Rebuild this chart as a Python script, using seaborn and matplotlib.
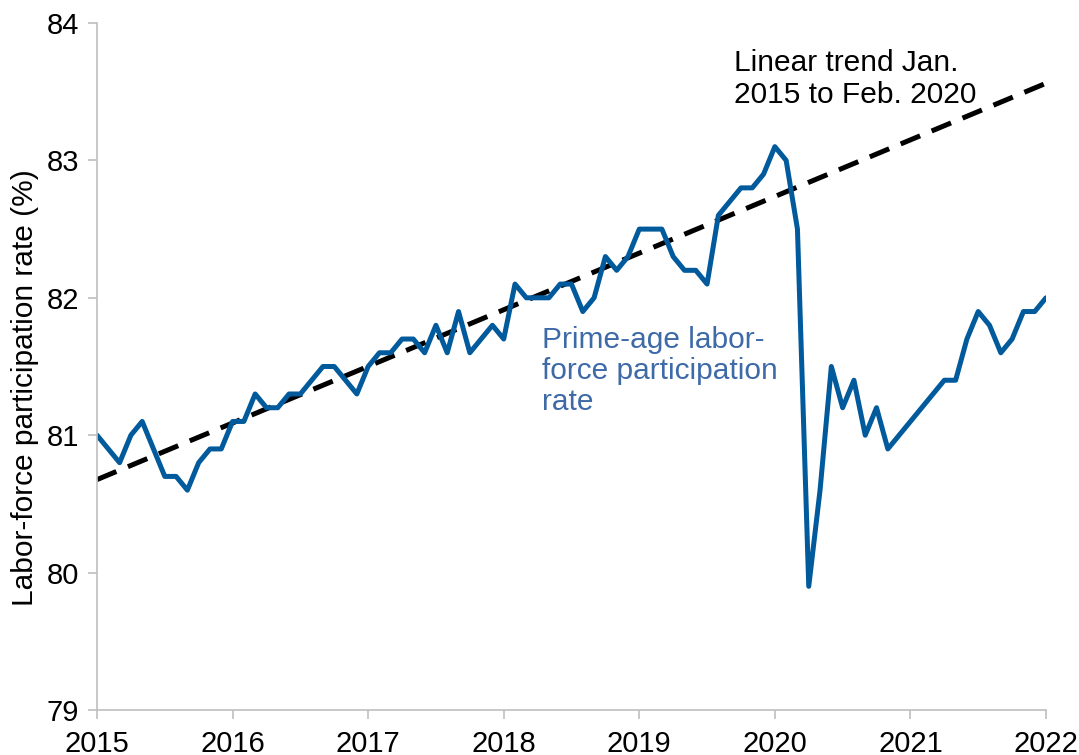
import numpy as np
import pandas as pd
import seaborn as sns
import matplotlib
matplotlib.use('Agg')
import matplotlib.pyplot as plt

# Monthly prime-age LFPR, Jan 2015 - Jan 2022
rate_2015 = [81.0, 80.9, 80.8, 81.0, 81.1, 80.9, 80.7, 80.7, 80.6, 80.8, 80.9, 80.9]
rate_2016 = [81.1, 81.1, 81.3, 81.2, 81.2, 81.3, 81.3, 81.4, 81.5, 81.5, 81.4, 81.3]
rate_2017 = [81.5, 81.6, 81.6, 81.7, 81.7, 81.6, 81.8, 81.6, 81.9, 81.6, 81.7, 81.8]
rate_2018 = [81.7, 82.1, 82.0, 82.0, 82.0, 82.1, 82.1, 81.9, 82.0, 82.3, 82.2, 82.3]
rate_2019 = [82.5, 82.5, 82.5, 82.3, 82.2, 82.2, 82.1, 82.6, 82.7, 82.8, 82.8, 82.9]
rate_2020 = [83.1, 83.0, 82.5, 79.9, 80.6, 81.5, 81.2, 81.4, 81.0, 81.2, 80.9, 81.0]
rate_2021 = [81.1, 81.2, 81.3, 81.4, 81.4, 81.7, 81.9, 81.8, 81.6, 81.7, 81.9, 81.9]
rate_2022 = [82.0]

year_ticks = [2015, 2016, 2017, 2018, 2019, 2020, 2021, 2022]
y_ticks = [79, 80, 81, 82, 83, 84]

LINE_BLUE = '#005a9c'
TEXT_BLUE = '#3e6aa8'
SPINE_GREY = '#bfbfbf'


def main():
    rates = (rate_2015 + rate_2016 + rate_2017 + rate_2018 + rate_2019
             + rate_2020 + rate_2021 + rate_2022)
    df = pd.DataFrame({'t': 2015 + np.arange(len(rates)) / 12.0, 'rate': rates})

    # linear trend fitted on Jan 2015 - Feb 2020, extended to the end
    pre = df.iloc[:62]
    slope, icpt = np.polyfit(pre['t'], pre['rate'], 1)
    trend = pd.DataFrame({'t': [2015.0, 2022.0]})
    trend['rate'] = slope * trend['t'] + icpt

    sns.set_theme(style='white')
    plt.rcParams['font.family'] = ['Liberation Sans', 'DejaVu Sans']

    fig = plt.figure(figsize=(10.79, 7.55), dpi=100)
    ax = fig.add_axes([97 / 1079, 45 / 755, 949 / 1079, 687 / 755])

    sns.lineplot(data=trend, x='t', y='rate', ax=ax, color='black',
                 linewidth=3.6, linestyle=(0, (4.2, 2.5)))
    sns.lineplot(data=df, x='t', y='rate', ax=ax, color=LINE_BLUE, linewidth=3.6)

    ax.set_xlim(2015, 2022)
    ax.set_ylim(79, 84)
    ax.set_xticks(year_ticks)
    ax.set_xticklabels([str(y) for y in year_ticks])
    ax.set_yticks(y_ticks)

    ax.set_xlabel('')
    ax.set_ylabel('Labor-force participation rate (%)', fontsize=21.5, color='black')
    ax.yaxis.set_label_coords(-0.061, 0.469)

    for side in ['top', 'right']:
        ax.spines[side].set_visible(False)
    for side in ['left', 'bottom']:
        ax.spines[side].set_color(SPINE_GREY)
        ax.spines[side].set_linewidth(1.2)
    ax.tick_params(axis='both', which='major', labelsize=21, colors='black',
                   length=6.5, width=1.2, color=SPINE_GREY, direction='out',
                   left=True, bottom=True)
    ax.tick_params(axis='y', pad=6.5)
    ax.tick_params(axis='x', pad=8)

    # multi-line text: baseline alignment refers to the last line here
    ax.text(2019.70, 83.42, 'Linear trend Jan.\n2015 to Feb. 2020',
            fontsize=21.5, color='black', ha='left', va='baseline', linespacing=1.15)
    ax.text(2018.28, 81.18, 'Prime-age labor-\nforce participation\nrate',
            fontsize=21.5, color=TEXT_BLUE, ha='left', va='baseline', linespacing=1.15)

    fig.savefig('out.png', dpi=100)


if __name__ == '__main__':
    main()
